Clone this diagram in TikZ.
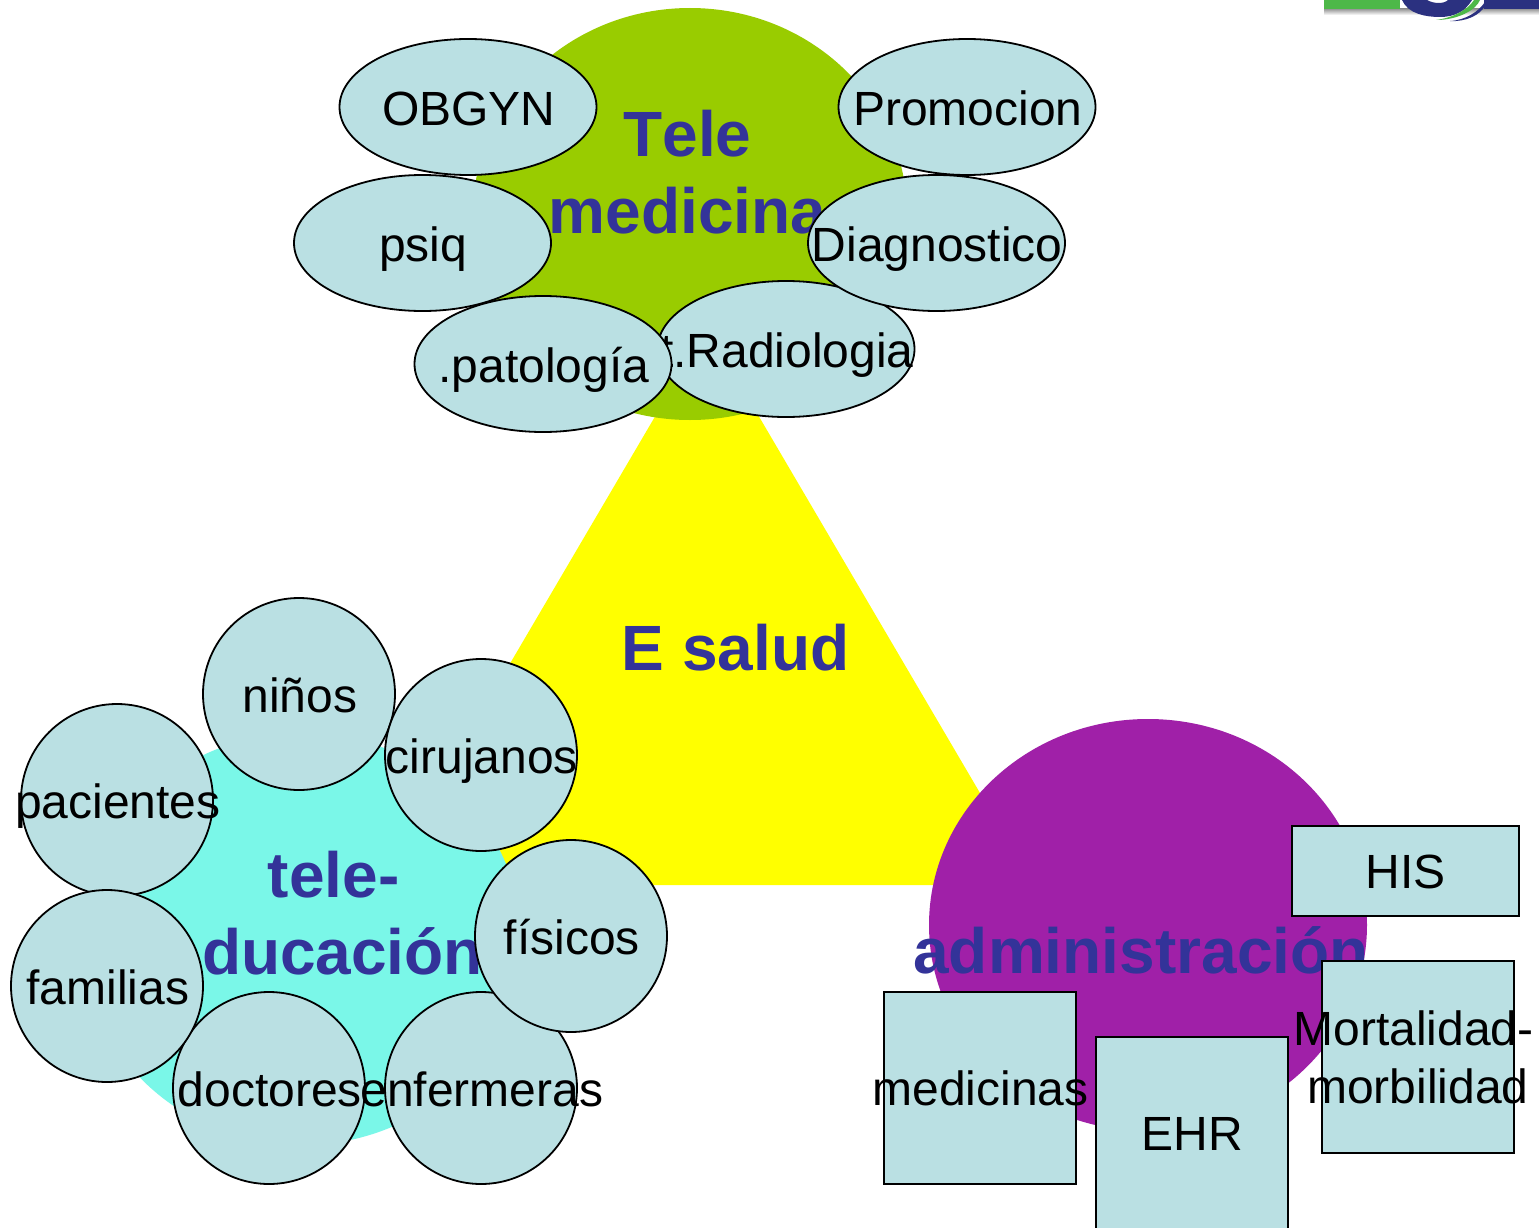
\documentclass[tikz,border=0pt]{standalone}
\usepackage{fontspec}
\setmainfont[Kerning=Off]{Liberation Sans}
\usetikzlibrary{shapes.geometric}
\definecolor{bub}{HTML}{BAE0E3}
\definecolor{ttl}{HTML}{333399}
\definecolor{grn}{HTML}{99CC00}
\definecolor{pur}{HTML}{A020A8}
\definecolor{cya}{HTML}{7AF7E8}
\definecolor{ylw}{HTML}{FFFF00}
\definecolor{logogreen}{HTML}{4DB848}
\definecolor{logoblue}{HTML}{2B3180}
\newcommand{\zw}[1]{\makebox[0pt]{\hspace{1.5pt}\raisebox{-18.5pt}[0pt][0pt]{#1}}}
\newcommand{\zs}[1]{\makebox[0pt]{\hspace{1pt}\raisebox{-17.5pt}[0pt][0pt]{#1}}}
\newcommand{\zwtwo}[2]{\makebox[0pt]{\hspace{-9pt}\raisebox{11.5pt}[0pt][0pt]{#1}}\makebox[0pt]{\raisebox{-46.5pt}[0pt][0pt]{#2}}}
\tikzset{x=1pt,y=-1pt,
 lbl/.style={font=\fontsize{48}{57.6}\selectfont,text=black,align=center,inner sep=0pt},
 ttlbl/.style={font=\fontsize{64}{76.8}\selectfont\bfseries,text=ttl,align=center,inner sep=0pt},
 oval/.style={ellipse,draw=black,line width=1.8pt,fill=bub,minimum width=257pt,minimum height=136pt,inner sep=0pt,lbl},
 disc/.style={circle,draw=black,line width=1.8pt,fill=bub,minimum size=192pt,inner sep=0pt,lbl},
 sq/.style={rectangle,draw=black,line width=2pt,fill=bub,inner sep=0pt,lbl}}
\begin{document}
\begin{tikzpicture}
\useasboundingbox (0,0) rectangle (1539,1228);
\fill[white] (0,0) rectangle (1539,1228);
% logo
\shade[top color=black!40,bottom color=white] (1324,9) rectangle (1539,15);
\fill[logogreen] (1324,0) rectangle (1400,9);
\fill[logoblue] (1484,0) rectangle (1539,9);
\fill[logoblue] (1402,0) .. controls (1408,14) and (1426,17) .. (1440,17) .. controls (1456,17) and (1466,10) .. (1472,0) -- (1448,0) .. controls (1444,4) and (1434,4) .. (1427,0) -- cycle;
\fill[logogreen] (1436,20) .. controls (1452,18) and (1468,10) .. (1474,0) -- (1480,0) .. controls (1476,10) and (1458,20) .. (1436,20) -- cycle;
\fill[logoblue] (1450,21) .. controls (1466,20) and (1478,12) .. (1485,2) -- (1485,6) .. controls (1480,15) and (1466,22) .. (1450,21) -- cycle;
% big shapes
\fill[ylw] (707,328) coordinate (apex) -- (1034,885) coordinate (br) -- (380,885) coordinate (bl) -- cycle;
\node[ellipse,fill=grn,minimum width=434pt,minimum height=412pt,inner sep=0pt] (tm) at (690,214) {};
\node[ellipse,fill=pur,minimum width=438pt,minimum height=412pt,inner sep=0pt] (ad) at (1148,925) {};
\node[ellipse,fill=cya,minimum width=438pt,minimum height=412pt,inner sep=0pt] (te) at (302,939) {};
% titles
\node[ttlbl] (tt) at (687.5,172.5) {Tele\\medicina};
\node[ttlbl] (es) at (735.5,648) {E salud};
\node[ttlbl] (tl) at (342.5,913) {tele-\rule{17.8pt}{0pt}\\ducación};
\node[ttlbl] (ai) at (1141,950) {administración};
% top ovals
\node[oval] (rad) at (786,349) {\zw{t.Radiologia}};
\node[oval] (pat) at (543,364) {\zw{.patología}};
\node[oval] (obg) at (468,107) {\zw{OBGYN}};
\node[oval] (pro) at (967,107) {\zw{Promocion}};
\node[oval] (psi) at (422.5,243) {\zw{psiq}};
\node[oval] (dia) at (936.5,243) {\zw{Diagnostico}};
% discs
\node[disc] (pac) at (117,800) {\zw{pacientes}};
\node[disc] (nin) at (299,694) {\zw{niños}};
\node[disc] (cir) at (481,755) {\zw{cirujanos}};
\node[disc] (doc) at (269,1088) {\zw{doctores}};
\node[disc] (enf) at (481,1088) {\zw{enfermeras}};
\node[disc] (fam) at (107,986) {\zw{familias}};
\node[disc] (fis) at (571,936) {\zw{físicos}};
% squares
\node[sq,minimum width=227pt,minimum height=90pt] (his) at (1405,870.5) {\zs{HIS}};
\node[sq,minimum width=192pt,minimum height=192pt] (mor) at (1418,1057) {\zwtwo{Mortalidad-}{morbilidad}};
\node[sq,minimum width=192pt,minimum height=192pt] (med) at (980,1087.5) {\zs{medicinas}};
\node[sq,minimum width=192pt,minimum height=192pt] (ehr) at (1191.5,1133) {\zs{EHR}};
\end{tikzpicture}
\end{document}
